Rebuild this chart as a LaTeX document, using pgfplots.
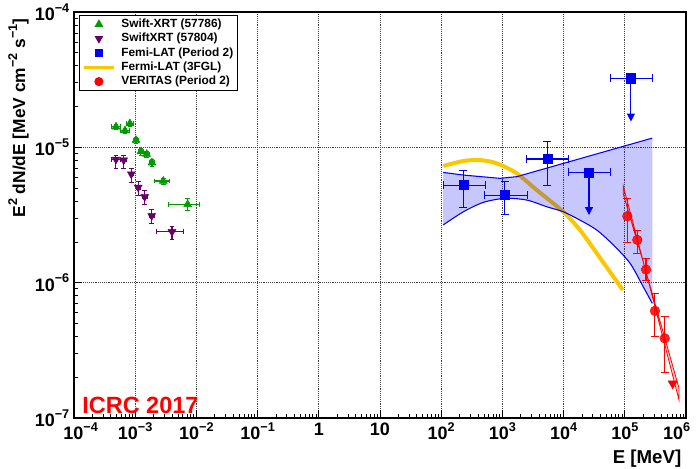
\documentclass[border=0pt]{standalone}
\usepackage{fontspec}
\setmainfont{Liberation Sans}
\setsansfont{Liberation Sans}
\usepackage{pgfplots}
\pgfplotsset{compat=1.18}
\usepackage{pgfplotstable}
\usetikzlibrary{arrows.meta}

\definecolor{swiftgreen}{RGB}{0,155,0}
\definecolor{swiftpurple}{RGB}{105,0,105}
\definecolor{fermiblue}{RGB}{0,0,250}
\definecolor{fglgold}{RGB}{250,200,0}
\definecolor{vred}{RGB}{255,0,0}

\newcommand{\sps}[1]{\raisebox{0.85ex}{\fontsize{9.5}{10}\selectfont #1}}
\newcommand{\tn}[1]{10\sps{#1}}

% Swift-XRT (57786)
\pgfplotstableread{
x        y        xlo      xhi      ylo      yhi
4.85e-4  1.42e-5  4.1e-4   5.7e-4   1.36e-5  1.48e-5
6.8e-4   1.33e-5  5.8e-4   7.9e-4   1.27e-5  1.39e-5
8.2e-4   1.50e-5  7.2e-4   9.3e-4   1.43e-5  1.57e-5
1.03e-3  1.13e-5  9.3e-4   1.14e-3  1.07e-5  1.19e-5
1.24e-3  9.3e-6   1.13e-3  1.36e-3  8.8e-6   9.8e-6
1.54e-3  8.9e-6   1.40e-3  1.69e-3  8.4e-6   9.4e-6
1.88e-3  7.7e-6   1.70e-3  2.07e-3  7.3e-6   8.1e-6
2.88e-3  5.64e-6  2.03e-3  3.60e-3  5.35e-6  5.95e-6
7.2e-3   3.79e-6  3.47e-3  1.11e-2  3.44e-6  4.17e-6
}\swiftA

% SwiftXRT (57804)
\pgfplotstableread{
x        y        xlo      xhi      ylo      yhi
4.85e-4  8.15e-6  4.1e-4   5.6e-4   7.0e-6   8.8e-6
6.49e-4  8.05e-6  5.8e-4   7.2e-4   7.0e-6   8.8e-6
8.63e-4  6.35e-6  7.9e-4   9.4e-4   5.5e-6   7.0e-6
1.12e-3  5.06e-6  1.03e-3  1.22e-3  4.4e-6   5.6e-6
1.43e-3  4.31e-6  1.31e-3  1.56e-3  3.8e-6   4.8e-6
1.86e-3  3.12e-6  1.70e-3  2.03e-3  2.75e-6  3.5e-6
3.99e-3  2.38e-6  2.19e-3  6.1e-3   2.1e-6   2.6e-6
}\swiftB

% Fermi-LAT period 2, detections
\pgfplotstableread{
x        y        xlo      xhi      ylo      yhi
230      5.26e-6  108      520      3.58e-6  6.79e-6
1100     4.43e-6  506      2550     3.21e-6  5.57e-6
5420     8.2e-6   2490     11900    5.26e-6  1.1e-5
}\fermiP

% Fermi-LAT period 2, upper limits
\pgfplotstableread{
x        y        xlo      xhi
26000    6.53e-6  11900    57300
126000   3.24e-5  57300    281000
}\fermiUL

% VERITAS period 2
\pgfplotstableread{
x        y        ylo      yhi
1.10e5   3.10e-6  2.0e-6   4.2e-6
1.60e5   2.07e-6  1.65e-6  2.45e-6
2.22e5   1.25e-6  1.04e-6  1.51e-6
3.11e5   6.19e-7  4.03e-7  8.4e-7
4.49e5   3.88e-7  2.16e-7  5.69e-7
}\veritas

\pgfplotsset{
  errs/.style={error bars/error mark=|,
    error bars/error bar style={line width=0.8pt, solid},
    error bars/error mark options={mark size=#1, solid}},
  markleg/.style={legend image code/.code={\draw[##1] plot coordinates {(0.4cm,0cm)};}},
  lineleg/.style={legend image code/.code={\draw[##1] (0cm,0cm) -- (0.8cm,0cm);}},
}

\begin{document}
\begin{tikzpicture}
\useasboundingbox (-55.5pt,-37.5pt) rectangle (466.5pt,313.5pt);
\begin{axis}[
  at={(0,0)}, anchor=south west,
  scale only axis, width=459pt, height=304.5pt,
  xmode=log, ymode=log,
  xmin=1e-4, xmax=1e6, ymin=1e-7, ymax=1e-4,
  xtick={1e-4,1e-3,1e-2,1e-1,1,10,1e2,1e3,1e4,1e5,1e6},
  xticklabels={\hspace*{10pt}\tn{−4},\tn{−3},\tn{−2},\tn{−1},1,10,\tn{2},\tn{3},\tn{4},\tn{5},\hspace*{-14pt}\tn{6}},
  ytick={1e-7,1e-6,1e-5,1e-4},
  yticklabels={\tn{−7},\tn{−6},\tn{−5},\tn{−4}},
  tick label style={font=\bfseries\fontsize{13.5}{14}\selectfont},
  tick align=inside, tick pos=left,
  major tick length=6pt, minor tick length=3pt,
  axis line style={line width=0.9pt},
  every tick/.style={black, line width=0.6pt},
  grid=major,
  major grid style={densely dotted, black!75, line width=0.6pt},
  xlabel={E [MeV]},
  xlabel style={at={(rel axis cs:1,-0.113)}, anchor=base east,
                font=\bfseries\fontsize{14}{16}\selectfont},
  ylabel={E\sps{2} dN/dE [MeV cm\sps{−2} s\sps{−1}]},
  ylabel style={at={(rel axis cs:-0.08,0.995)}, anchor=base east,
                font=\bfseries\fontsize{13}{15}\selectfont},
  legend style={at={(rel axis cs:0.008,0.993)}, anchor=north west,
                draw=black, line width=0.8pt, fill=white,
                font=\bfseries\fontsize{8.9}{10}\selectfont,
                row sep=0.4pt, inner xsep=2pt, inner ysep=1.5pt,
                nodes={inner sep=1.2pt},
                /tikz/every odd column/.append style={column sep=3pt}},
  legend cell align=left,
]
\addlegendimage{only marks, mark=triangle*, swiftgreen, mark size=3pt, markleg}
\addlegendentry{Swift-XRT (57786)}
\addlegendimage{only marks, mark=triangle*, mark options={rotate=180}, swiftpurple, mark size=3pt, markleg}
\addlegendentry{SwiftXRT (57804)}
\addlegendimage{only marks, mark=square*, fermiblue, mark size=2.6pt, markleg}
\addlegendentry{Femi-LAT (Period 2)}
\addlegendimage{no markers, fglgold, line width=2.5pt, lineleg}
\addlegendentry{Fermi-LAT (3FGL)}
\addlegendimage{only marks, mark=*, vred, mark size=3pt, markleg}
\addlegendentry{VERITAS (Period 2)}

% Fermi 3FGL model
\addplot[forget plot, fglgold, line width=3pt, smooth] coordinates {
  (108,7.28e-6) (230,7.93e-6) (431,8.05e-6) (807,7.62e-6) (1710,6.43e-6)
  (3630,4.84e-6) (9890,3.34e-6) (18500,2.45e-6) (34800,1.65e-6)
  (64900,1.11e-6) (92500,8.82e-7)};

% Fermi-LAT period 2 butterfly
\addplot[forget plot, draw=none, fill=fermiblue, fill opacity=0.22] coordinates {
  (108,6.53e-6) (230,6.24e-6) (914,5.90e-6) (1710,6.07e-6) (281000,1.17e-5)
  (281000,7.03e-7) (200000,9.33e-7) (122000,1.39e-6) (64900,1.90e-6)
  (34800,2.45e-6) (18500,2.90e-6) (9890,3.34e-6) (5300,3.64e-6)
  (2490,4.08e-6) (1100,4.20e-6) (488,3.92e-6) (230,3.34e-6) (108,2.67e-6)};
\addplot[forget plot, fermiblue, line width=0.8pt] coordinates {
  (108,6.53e-6) (230,6.24e-6) (914,5.90e-6) (1710,6.07e-6) (281000,1.17e-5)};
\addplot[forget plot, fermiblue, line width=0.8pt, smooth] coordinates {
  (108,2.67e-6) (230,3.34e-6) (488,3.92e-6) (1100,4.20e-6) (2490,4.08e-6)
  (5300,3.64e-6) (9890,3.34e-6) (18500,2.90e-6) (34800,2.45e-6)
  (64900,1.90e-6) (122000,1.39e-6) (200000,9.33e-7) (281000,7.03e-7)};

% Swift-XRT (57786)
\addplot[forget plot, only marks, mark=triangle*, mark size=3.4pt, swiftgreen, errs=1.8pt,
  error bars/.cd, x dir=both, x explicit, y dir=both, y explicit]
  table[x=x, y=y,
    x error plus expr=\thisrow{xhi}-\thisrow{x}, x error minus expr=\thisrow{x}-\thisrow{xlo},
    y error plus expr=\thisrow{yhi}-\thisrow{y}, y error minus expr=\thisrow{y}-\thisrow{ylo}] {\swiftA};

% SwiftXRT (57804)
\addplot[forget plot, only marks, mark=triangle*, mark options={rotate=180}, mark size=3.4pt, swiftpurple, errs=1.8pt,
  error bars/.cd, x dir=both, x explicit, y dir=both, y explicit]
  table[x=x, y=y,
    x error plus expr=\thisrow{xhi}-\thisrow{x}, x error minus expr=\thisrow{x}-\thisrow{xlo},
    y error plus expr=\thisrow{yhi}-\thisrow{y}, y error minus expr=\thisrow{y}-\thisrow{ylo}] {\swiftB};

% Fermi-LAT period 2 points
\addplot[forget plot, only marks, mark=square*, mark size=3.4pt, fermiblue, errs=3pt,
  error bars/.cd, x dir=both, x explicit, y dir=both, y explicit]
  table[x=x, y=y,
    x error plus expr=\thisrow{xhi}-\thisrow{x}, x error minus expr=\thisrow{x}-\thisrow{xlo},
    y error plus expr=\thisrow{yhi}-\thisrow{y}, y error minus expr=\thisrow{y}-\thisrow{ylo}] {\fermiP};
\addplot[forget plot, only marks, mark=square*, mark size=3.4pt, fermiblue, errs=3pt,
  error bars/.cd, x dir=both, x explicit]
  table[x=x, y=y,
    x error plus expr=\thisrow{xhi}-\thisrow{x}, x error minus expr=\thisrow{x}-\thisrow{xlo}] {\fermiUL};
\addplot[forget plot, fermiblue, line width=0.8pt, -{Triangle[length=6pt,width=6pt]}]
  coordinates {(26000,6.53e-6) (26000,3.16e-6)};
\addplot[forget plot, fermiblue, line width=0.8pt, -{Triangle[length=6pt,width=6pt]}]
  coordinates {(126000,3.24e-5) (126000,1.55e-5)};

% VERITAS butterfly
\addplot[forget plot, draw=vred, line width=0.6pt, fill=vred, fill opacity=0.2] coordinates {
  (9.44e4,5.18e-6) (2.14e5,1.28e-6) (7.69e5,1.66e-7)
  (7.69e5,1.36e-7) (2.14e5,1.28e-6) (9.44e4,4.52e-6)} -- cycle;

% VERITAS points
\addplot[forget plot, only marks, mark=*, mark size=3.6pt, vred,
  mark options={fill opacity=0.85}, errs=3pt,
  error bars/.cd, y dir=both, y explicit]
  table[x=x, y=y,
    y error plus expr=\thisrow{yhi}-\thisrow{y}, y error minus expr=\thisrow{y}-\thisrow{ylo}] {\veritas};
\addplot[forget plot, only marks, mark=triangle*, mark options={rotate=180}, mark size=4pt, vred]
  coordinates {(6.06e5,1.80e-7)};

\node[anchor=base west, text=vred, font=\bfseries\fontsize{17.6}{20}\selectfont]
  at (rel axis cs:0.006,0.01) {ICRC 2017};
\end{axis}
\end{tikzpicture}
\end{document}
